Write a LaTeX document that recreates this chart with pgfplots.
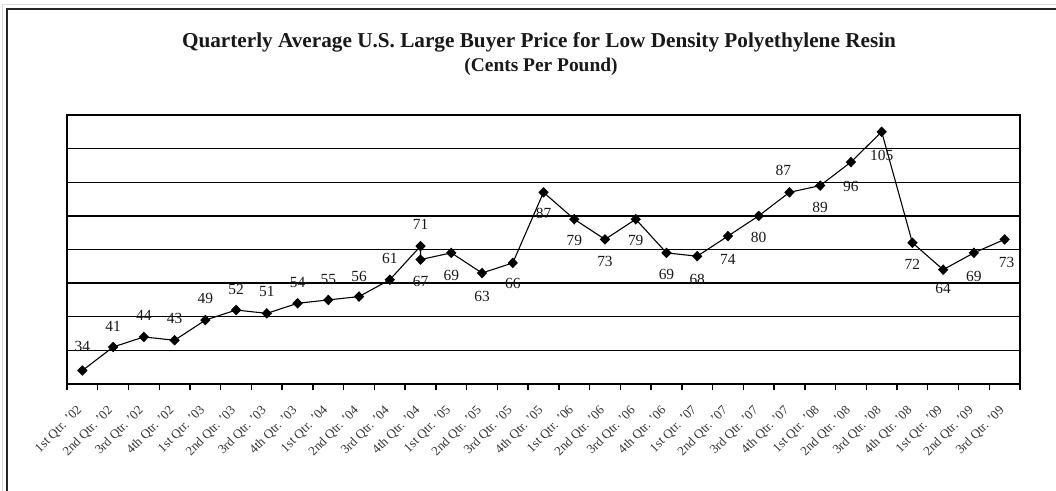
\documentclass[border=0pt]{standalone}
\usepackage{pgfplots}
\pgfplotsset{compat=1.18}
\usepackage{pgfplotstable}
\usepackage{fontspec}
\setmainfont{Liberation Serif}

% quarter index, price, label offset (bp)
\pgfplotstableread{
x y dx dy
0 34 0 24
1 41 0 21
2 44 0 21
3 43 0 22
4 49 0 22
5 52 0 21
6 51 0 22
7 54 0 21
8 55 0 20
9 56 0 20
10 61 0 21
11 71 0 22
11 67 0 -22
12 69 0 -23
13 63 0 -23
14 66 0 -21
15 87 0 -21
16 79 0 -21
17 73 0 -22
18 79 0 -21
19 69 0 -22
20 68 0 -23
21 74 0 -23
22 80 0 -22
23 87 -6 22
24 89 0 -22
25 96 0 -24
26 105 0 -24
27 72 0 -22
28 64 0 -19
29 69 0 -24
30 73 2 -23
}\pricedata

\begin{document}
\begin{tikzpicture}[x=1bp,y=1bp]
\path[use as bounding box] (0,0) rectangle (1056,491);
% sheet lines and chart frame
\draw[gray!30, line width=1.5bp] (2.5,0) -- (2.5,486.5) -- (1056,486.5);
\draw[black!85, line width=2bp] (7,0) -- (7,482) -- (1056,482);
\node[font=\bfseries\fontsize{21.3}{24}\selectfont, anchor=base, text=black!90] at (539,443) {Quarterly Average U.S. Large Buyer Price for Low Density Polyethylene Resin};
\node[font=\bfseries\fontsize{19.5}{22}\selectfont, anchor=base, text=black!90] at (541,419) {(Cents Per Pound)};
\begin{axis}[
  at={(67bp,107bp)}, anchor=south west,
  scale only axis,
  width=953bp, height=269bp,
  xmin=-0.5, xmax=30.5,
  ymin=30, ymax=110,
  xtick={0,...,30},
  xticklabels={{1st Qtr. '02},{2nd Qtr. '02},{3rd Qtr. '02},{4th Qtr. '02},
    {1st Qtr. '03},{2nd Qtr. '03},{3rd Qtr. '03},{4th Qtr. '03},
    {1st Qtr. '04},{2nd Qtr. '04},{3rd Qtr. '04},{4th Qtr. '04},
    {1st Qtr. '05},{2nd Qtr. '05},{3rd Qtr. '05},{4th Qtr. '05},
    {1st Qtr. '06},{2nd Qtr. '06},{3rd Qtr. '06},{4th Qtr. '06},
    {1st Qtr. '07},{2nd Qtr. '07},{3rd Qtr. '07},{4th Qtr. '07},
    {1st Qtr. '08},{2nd Qtr. '08},{3rd Qtr. '08},{4th Qtr. '08},
    {1st Qtr. '09},{2nd Qtr. '09},{3rd Qtr. '09}},
  minor xtick={-0.5,0.5,...,30.5},
  xtick pos=left,
  ytick={30,40,...,110},
  yticklabels={},
  major tick length=0pt,
  minor tick length=6bp,
  tick align=outside,
  tick style={black, line width=1.4bp},
  xticklabel style={rotate=45, anchor=east, font=\fontsize{13}{14}\selectfont, text=black!80},
  xticklabel shift=22bp,
  ymajorgrids,
  grid style={black, line width=1.4bp},
  axis line style={black, line width=1.5bp},
  clip=false,
  /pgf/number format/assume math mode=true,
]
\addplot[black, line width=1.1bp, mark=diamond*, mark size=4.5bp, mark options={solid, xscale=1.3},
  point meta=y,
  visualization depends on={\thisrow{dx} \as \dx},
  visualization depends on={\thisrow{dy} \as \dy},
  nodes near coords,
  nodes near coords style={anchor=center, inner sep=0pt, xshift=\dx bp, yshift=\dy bp,
    font=\fontsize{15.5}{16}\selectfont, text=black!90},
] table[x=x, y=y] {\pricedata};
\end{axis}
\end{tikzpicture}
\end{document}
